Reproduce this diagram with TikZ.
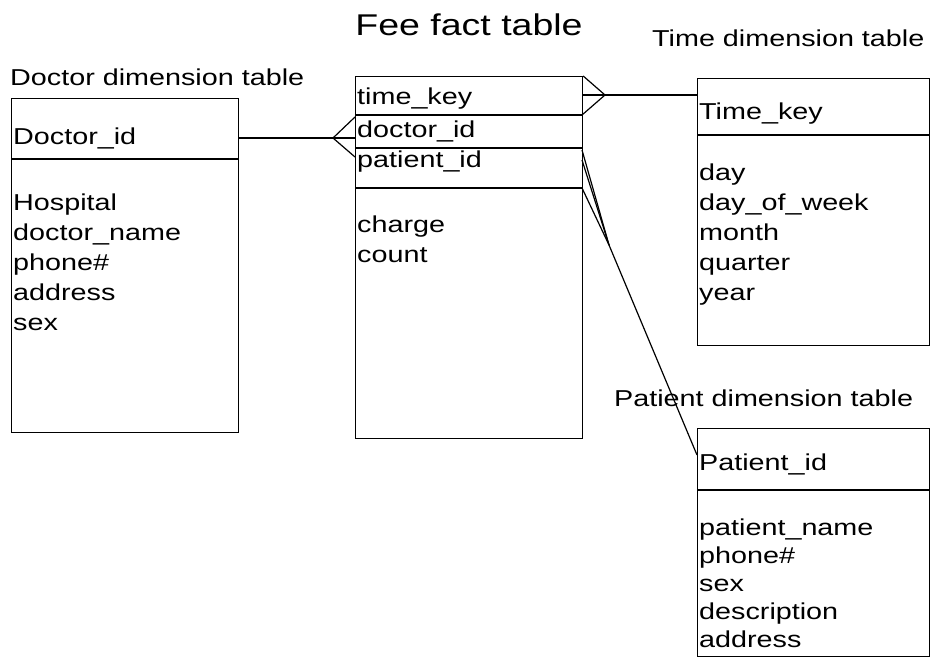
\documentclass[tikz,border=0pt]{standalone}
\usepackage{fontspec}
\setmainfont{Liberation Sans}[FakeStretch=1.25]
\usetikzlibrary{positioning}
\tikzstyle{tablebox} = [rectangle, draw, line width=1.2pt, anchor=north west,
    inner sep=0pt]
\tikzstyle{field} = [anchor=base west, inner sep=0pt,
    font=\fontsize{23}{30}\selectfont]
\tikzstyle{caption} = [anchor=base west, inner sep=0pt,
    font=\fontsize{23}{30}\selectfont]
\tikzstyle{line} = [draw, line width=1.2pt]

\begin{document}
\begin{tikzpicture}[x=1pt, y=-1pt]
    \fill[white] (0,0) rectangle (931,666);
    \useasboundingbox (0,0) rectangle (931,666);
    % Captions
    \node [anchor=base, inner sep=0pt, font=\fontsize{30}{36}\selectfont] (title) at (469,36) {Fee fact table};
    \node [caption] (doccap) at (10,86) {Doctor dimension table};
    \node [caption] (timecap) at (652,47) {Time dimension table};
    \node [caption] (patcap) at (614,406) {Patient dimension table};

    % Doctor table
    \node [tablebox, minimum width=227pt, minimum height=334pt] (docbox) at (11,98) {};
    \draw [line] (11,159) -- (238,159);
    \node [field] (dockey) at (13,145) {Doctor\_id};
    \foreach \t [count=\i] in {Hospital, doctor\_name, phone\#, address, sex}
        \node [field] (doc\i) at (13,180+30*\i) {\t};

    % Fee fact table
    \node [tablebox, minimum width=227pt, minimum height=362pt] (feebox) at (355,76) {};
    \draw [line] (355,115) -- (582,115);
    \draw [line] (355,148) -- (582,148);
    \draw [line] (355,188) -- (582,188);
    \node [field] (feetime) at (357,105) {time\_key};
    \node [field] (feedoc) at (357,137) {doctor\_id};
    \node [field] (feepat) at (357,167) {patient\_id};
    \node [field] (charge) at (357,232) {charge};
    \node [field] (count) at (357,262) {count};

    % Time table
    \node [tablebox, minimum width=232pt, minimum height=267pt] (timebox) at (697,78) {};
    \draw [line] (697,135) -- (929,135);
    \node [field] (timekey) at (699,120) {Time\_key};
    \foreach \t [count=\i] in {day, day\_of\_week, month, quarter, year}
        \node [field] (time\i) at (699,150+30*\i) {\t};

    % Patient table
    \node [tablebox, minimum width=232pt, minimum height=228pt] (patbox) at (697,428) {};
    \draw [line] (697,490) -- (929,490);
    \node [field] (patkey) at (699,470) {Patient\_id};
    \foreach \t [count=\i] in {patient\_name, phone\#, sex, description, address}
        \node [field] (pat\i) at (699,507+28*\i) {\t};

    % Crow's feet
    \coordinate (docapex) at (333,138);
    \coordinate (docend) at (238,138);
    \coordinate (timeapex) at (605,95);
    \coordinate (timeend) at (697,95);
    \coordinate (patapex) at (609,245);
    \coordinate (patend) at (697,455);

    % Draw edges
    \path [line] (docend) -- (docapex);
    \path [line] (docapex) -- (355,117);
    \path [line] (docapex) -- (355,138);
    \path [line] (docapex) -- (355,157);

    \path [line] (timeend) -- (timeapex);
    \path [line] (timeapex) -- (feebox.north east);
    \path [line] (timeapex) -- (582,95);
    \path [line] (timeapex) -- (582,115);

    \path [line] (patend) -- (patapex);
    \path [line] (patapex) -- (582,150);
    \path [line] (patapex) -- (582,160);
    \path [line] (patapex) -- (582,188);
\end{tikzpicture}
\end{document}
